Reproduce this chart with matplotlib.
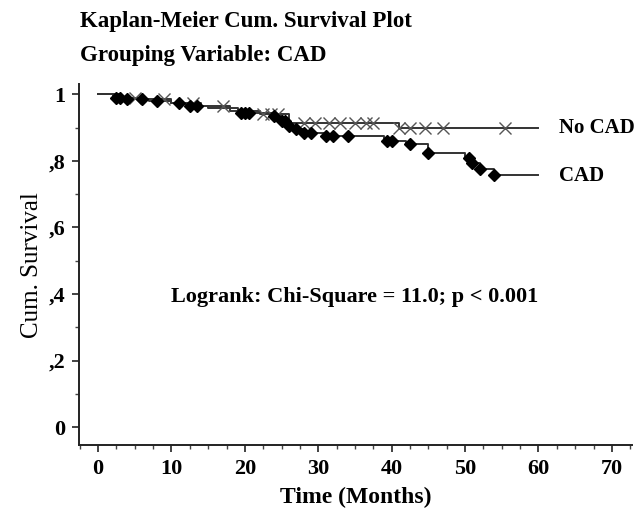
import matplotlib
matplotlib.use("Agg")
import matplotlib.pyplot as plt
from matplotlib.ticker import MultipleLocator, FixedLocator

# ---- data ----
cad_times = [0, 2, 4, 7, 10, 12, 15, 19, 24, 25, 26, 27, 28, 31, 39, 42, 45, 50, 51, 52, 54, 60]
cad_surv = [1.0, 0.99, 0.985, 0.98, 0.975, 0.965, 0.96, 0.945, 0.935, 0.92, 0.905, 0.895,
            0.885, 0.875, 0.86, 0.85, 0.825, 0.81, 0.795, 0.775, 0.758, 0.758]
cad_cens_t = [2.5, 3, 4, 6, 8, 11, 12.5, 13.5, 19.5, 20, 20.5, 24, 25, 25.5, 26, 27, 28, 29,
              31, 32, 34, 39.3, 40, 42.5, 45, 50.5, 51, 52, 54]
cad_cens_s = [0.99, 0.99, 0.985, 0.985, 0.98, 0.975, 0.965, 0.965, 0.945, 0.945, 0.945, 0.935,
              0.92, 0.92, 0.905, 0.895, 0.885, 0.885, 0.875, 0.875, 0.875, 0.86, 0.86, 0.85,
              0.825, 0.81, 0.795, 0.775, 0.758]

nocad_times = [0, 3, 6, 10, 14, 18, 22, 26, 41, 60]
nocad_surv = [1.0, 0.99, 0.985, 0.975, 0.965, 0.95, 0.94, 0.915, 0.9, 0.9]
nocad_cens_t = [5, 9, 13, 17, 22.5, 23.5, 24.5, 28, 29.5, 31.5, 33, 35, 36.5, 37.5,
                41, 42.5, 44.5, 47, 55.5]
nocad_cens_s = [0.99, 0.985, 0.975, 0.965, 0.94, 0.94, 0.94, 0.915, 0.915, 0.915, 0.915,
                0.915, 0.915, 0.915, 0.9, 0.9, 0.9, 0.9, 0.9]

x_ticks = [0, 10, 20, 30, 40, 50, 60, 70]
y_ticks = [0, 0.2, 0.4, 0.6, 0.8, 1.0]
y_tick_labels = ["0", ",2", ",4", ",6", ",8", "1"]

serif = ["Liberation Serif", "DejaVu Serif"]

fig = plt.figure(figsize=(6.42, 5.19), dpi=100)
ax = fig.add_axes([0.123, 0.1426, 0.861, 0.6946])

ax.step(nocad_times, nocad_surv, where="post", color="#333333", lw=1.4)
ax.step(cad_times, cad_surv, where="post", color="#333333", lw=1.4)
ax.plot(nocad_cens_t, nocad_cens_s, ls="none", marker="x", ms=8, mew=1.0, color="#555555")
ax.plot(cad_cens_t, cad_cens_s, ls="none", marker="D", ms=6.5, color="black")

ax.set_xlim(-2.6, 72.7)
ax.set_ylim(-0.054, 1.03)
ax.xaxis.set_major_locator(FixedLocator(x_ticks))
ax.xaxis.set_minor_locator(MultipleLocator(2.5))
ax.yaxis.set_major_locator(FixedLocator(y_ticks))
ax.yaxis.set_minor_locator(MultipleLocator(0.1))
ax.set_yticklabels(y_tick_labels)
for s in ["top", "right"]:
    ax.spines[s].set_visible(False)
for s in ["left", "bottom"]:
    ax.spines[s].set_linewidth(1.4)
    ax.spines[s].set_color("#222222")
ax.tick_params(which="major", direction="out", length=5, width=1.2, color="#222222", pad=5)
ax.tick_params(which="minor", direction="out", length=3, width=1.0, color="#444444")
for lab in ax.get_xticklabels() + ax.get_yticklabels():
    lab.set_fontfamily(serif)
    lab.set_fontweight("bold")
    lab.set_fontsize(16)

ax.set_xlabel("Time (Months)", fontfamily=serif, fontweight="bold", fontsize=17, labelpad=6)
ax.set_ylabel("Cum. Survival", fontfamily=serif, fontsize=18, labelpad=4)

ax.text(62.8, 0.9, "No CAD", fontfamily=serif, fontweight="bold", fontsize=15, va="center", ha="left")
ax.text(62.8, 0.756, "CAD", fontfamily=serif, fontweight="bold", fontsize=15, va="center", ha="left")
ax.text(35, 0.39, "Logrank: Chi-Square = 11.0; p < 0.001", fontfamily=serif, fontweight="bold",
        fontsize=16, va="center", ha="center")

fig.text(80 / 642, 1 - 22 / 519, "Kaplan-Meier Cum. Survival Plot", fontfamily=serif,
         fontweight="bold", fontsize=16.5, va="center", ha="left")
fig.text(80 / 642, 1 - 55 / 519, "Grouping Variable: CAD", fontfamily=serif,
         fontweight="bold", fontsize=16.5, va="center", ha="left")

fig.savefig("out.png", dpi=100, facecolor="white")
